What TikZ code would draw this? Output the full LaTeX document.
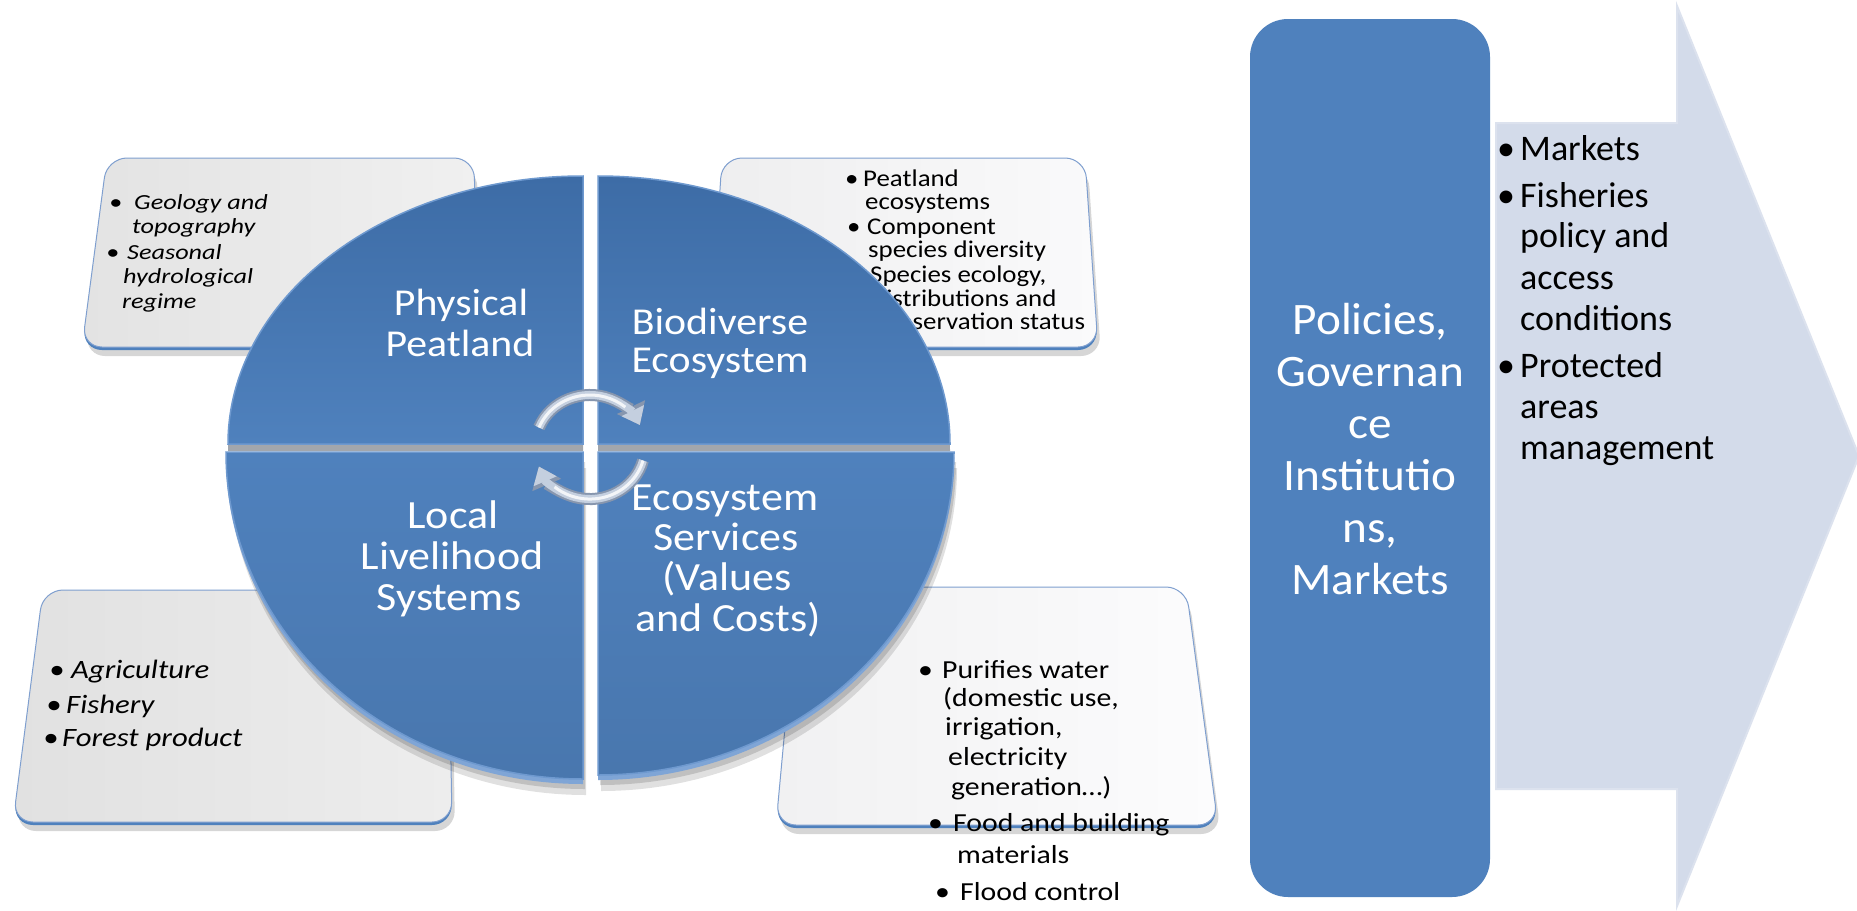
\documentclass[tikz,border=0pt]{standalone}
\usepackage{fontspec}
\setmainfont{Carlito}
\newfontfamily\fTL[FakeStretch=1.22]{Carlito}
\newfontfamily\fTR[FakeStretch=1.12]{Carlito}
\newfontfamily\fBL[FakeStretch=1.16]{Carlito}
\newfontfamily\fBR[FakeStretch=1.145]{Carlito}
\newfontfamily\fQ[FakeStretch=1.1]{Carlito}
\newfontfamily\fR[FakeStretch=1.05]{Carlito}
\usetikzlibrary{arrows.meta}
\definecolor{qblue}{HTML}{4F81BD}
\definecolor{qdark}{HTML}{3D6CA6}
\definecolor{qlight}{HTML}{6E99CF}
\definecolor{qrim}{HTML}{7FA5D6}
\definecolor{band}{HTML}{A2A6AC}
\definecolor{arrowfill}{HTML}{D3DBEA}
\definecolor{arrowedge}{HTML}{DCE2EE}
\definecolor{boxline}{HTML}{7F9FCF}
\definecolor{cyc}{HTML}{C4CFDF}
\definecolor{cycdark}{HTML}{8796AE}
\definecolor{tlL}{HTML}{E3E3E3}\definecolor{tlR}{HTML}{F0F0F0}
\definecolor{trL}{HTML}{EEEEEF}\definecolor{trR}{HTML}{FAFAFB}
\definecolor{blL}{HTML}{E1E1E1}\definecolor{blR}{HTML}{EDEDED}
\definecolor{brL}{HTML}{F1F1F2}\definecolor{brR}{HTML}{FCFCFD}
\begin{document}
\begin{tikzpicture}[x=1pt,y=-1pt,
  txt/.style={inner sep=0pt, anchor=base west, text=black},
  qlabT/.style={inner sep=0pt, anchor=base, text=white, font=\fQ\fontsize{38}{41}\selectfont},
  qlabB/.style={inner sep=0pt, anchor=base, text=white, font=\fQ\fontsize{40}{41}\selectfont},
  rlab/.style={inner sep=0pt, anchor=base, text=white, font=\fR\fontsize{45}{52}\selectfont},
  boxface/.style={draw=boxline, line width=1pt, rounded corners=20pt},
  boxrim/.style={fill=qblue, rounded corners=20pt},
  boxshadow/.style={fill=black, opacity=0.16, rounded corners=20pt},
  quad/.style={draw=qlight, line width=1.5pt},
  cycout/.style={line width=12pt, draw=cycdark, -{Triangle[length=20pt,width=30pt]}},
  cycarrow/.style={line width=8pt, draw=cyc, -{Triangle[length=16pt,width=24pt]}},
  cychigh/.style={line width=3pt, draw=white, opacity=0.8},
]
\useasboundingbox (0,0) rectangle (1857,910);
\fill[white] (0,0) rectangle (1857,910);

% ---------- text boxes ----------
% top-left
\begin{scope}[shift={(3,9)}]\fill[boxshadow] (107,158) -- (474,158) -- (478,347) -- (82,347) -- cycle;\end{scope}
\begin{scope}[shift={(0,3)}]\fill[boxrim] (107,158) -- (474,158) -- (478,347) -- (82,347) -- cycle;\end{scope}
\path[boxface, left color=tlL, right color=tlR] (107,158) -- (474,158) -- (478,347) -- (82,347) -- cycle;
% top-right
\begin{scope}[shift={(3,9)}]\fill[boxshadow] (722,158) -- (1085,158) -- (1098,347) -- (710,347) -- cycle;\end{scope}
\begin{scope}[shift={(0,3)}]\fill[boxrim] (722,158) -- (1085,158) -- (1098,347) -- (710,347) -- cycle;\end{scope}
\path[boxface, left color=trL, right color=trR] (722,158) -- (1085,158) -- (1098,347) -- (710,347) -- cycle;
% bottom-left
\begin{scope}[shift={(3,9)}]\fill[boxshadow] (43,590) -- (448,590) -- (452,822) -- (13,822) -- cycle;\end{scope}
\begin{scope}[shift={(0,3)}]\fill[boxrim] (43,590) -- (448,590) -- (452,822) -- (13,822) -- cycle;\end{scope}
\path[boxface, left color=blL, right color=blR] (43,590) -- (448,590) -- (452,822) -- (13,822) -- cycle;
% bottom-right
\begin{scope}[shift={(3,9)}]\fill[boxshadow] (798,587) -- (1186,587) -- (1218,825) -- (776,825) -- cycle;\end{scope}
\begin{scope}[shift={(0,3)}]\fill[boxrim] (798,587) -- (1186,587) -- (1218,825) -- (776,825) -- cycle;\end{scope}
\path[boxface, left color=brL, right color=brR] (798,587) -- (1186,587) -- (1218,825) -- (776,825) -- cycle;

% box texts
\begin{scope}[font=\fTL\itshape\fontsize{21.5}{24}\selectfont]
\node[txt] (tlb1) at (109,209) {•};
\node[txt] (tl1) at (134,209) {Geology and};
\node[txt] (tl2) at (132,233) {topography};
\node[txt] (tlb2) at (106,259) {•};
\node[txt] (tl3) at (127,259) {Seasonal};
\node[txt] (tl4) at (123,283) {hydrological};
\node[txt] (tl5) at (122,308) {regime};
\end{scope}
\begin{scope}[font=\fTR\fontsize{24}{24}\selectfont]
\node[txt] (trb1) at (845,186) {•};
\node[txt] (tr1) at (863,186) {Peatland};
\node[txt] (tr2) at (865,209) {ecosystems};
\node[txt] (trb2) at (847,234) {•};
\node[txt] (tr3) at (867,234) {Component};
\node[txt] (tr4) at (868,257) {species diversity};
\node[txt] (trb3) at (849,282) {•};
\node[txt] (tr5) at (870,282) {Species ecology,};
\node[txt] (tr6) at (872,306) {distributions and};
\node[txt] (tr7) at (873,329) {conservation status};
\end{scope}
\begin{scope}[font=\fBL\itshape\fontsize{26.5}{30}\selectfont]
\node[txt] (blb1) at (49,678) {•};
\node[txt] (bl1) at (71,678) {Agriculture};
\node[txt] (blb2) at (46,713) {•};
\node[txt] (bl2) at (66,713) {Fishery};
\node[txt] (blb3) at (43,746) {•};
\node[txt] (bl3) at (62,746) {Forest product};
\end{scope}
\begin{scope}[font=\fBR\fontsize{26}{30}\selectfont]
\node[txt] (brb1) at (918,678) {•};
\node[txt] (br1) at (942,678) {Purifies water};
\node[txt] (br2) at (943,706) {(domestic use,};
\node[txt] (br3) at (945,735) {irrigation,};
\node[txt] (br4) at (948,765) {electricity};
\node[txt] (br5) at (951,795) {generation…)};
\node[txt] (brb2) at (928,831) {•};
\node[txt] (br6) at (953,831) {Food and building};
\node[txt] (br7) at (957,863) {materials};
\node[txt] (brb3) at (935,900) {•};
\node[txt] (br8) at (960,900) {Flood control};
\end{scope}

% ---------- disk ----------
% drop shadow under the lower quadrants
\foreach \dx/\dy/\op in {3/16/0.12, 2/10/0.14}{
  \begin{scope}[shift={(\dx,\dy)}]
  \fill[black, opacity=\op] (583,452) -- (226,452) arc[start angle=180, end angle=270, x radius=357pt, y radius=327pt] -- cycle;
  \fill[black, opacity=\op] (598,452) -- (598,775) arc[start angle=270, end angle=360, x radius=356pt, y radius=323pt] -- cycle;
  \end{scope}
}
% thickness of the upper quadrants
\begin{scope}[shift={(0,7)}]
\fill[band] (583,444) -- (228,444) arc[start angle=180, end angle=90, x radius=355pt, y radius=268pt] -- cycle;
\fill[band] (598,444) -- (598,176) arc[start angle=90, end angle=0, x radius=352pt, y radius=268pt] -- cycle;
\end{scope}
% rim of the lower quadrants
\begin{scope}[shift={(0,5)}]
\fill[qrim] (583,452) -- (226,452) arc[start angle=180, end angle=270, x radius=357pt, y radius=327pt] -- cycle;
\fill[qrim] (598,452) -- (598,775) arc[start angle=270, end angle=360, x radius=356pt, y radius=323pt] -- cycle;
\end{scope}
% faces
\path[quad, top color=qdark, bottom color=qblue] (583,444) -- (228,444) arc[start angle=180, end angle=90, x radius=355pt, y radius=268pt] -- cycle;
\path[quad, top color=qdark, bottom color=qblue] (598,444) -- (598,176) arc[start angle=90, end angle=0, x radius=352pt, y radius=268pt] -- cycle;
\path[quad, top color=qblue, bottom color=qblue!92!black] (583,452) -- (226,452) arc[start angle=180, end angle=270, x radius=357pt, y radius=327pt] -- cycle;
\path[quad, top color=qblue, bottom color=qblue!92!black] (598,452) -- (598,775) arc[start angle=270, end angle=360, x radius=356pt, y radius=323pt] -- cycle;

% quadrant labels
\node[qlabT] (q1a) at (461,315) {Physical};
\node[qlabT] (q1b) at (460,356) {Peatland};
\node[qlabT] (q2a) at (720,334) {Biodiverse};
\node[qlabT] (q2b) at (720,372) {Ecosystem};
\node[qlabB] (q3a) at (453,528) {Local};
\node[qlabB] (q3b) at (452,569) {Livelihood};
\node[qlabB] (q3c) at (449,610) {Systems};
\node[qlabB] (q4a) at (725,510) {Ecosystem};
\node[qlabB] (q4b) at (726,550) {Services};
\node[qlabB] (q4c) at (727,590) {(Values};
\node[qlabB] (q4d) at (728,631) {and Costs)};

% cycle arrows
\draw[cycout] (539,427.5) arc[start angle=158, end angle=25, x radius=55pt, y radius=52pt];
\draw[cycarrow] (539,427.5) arc[start angle=158, end angle=25, x radius=55pt, y radius=52pt];
\draw[cychigh] (539,427.5) arc[start angle=158, end angle=50, x radius=55pt, y radius=52pt];
\draw[cycout] (643,460.5) arc[start angle=-15, end angle=-158, x radius=55pt, y radius=52pt];
\draw[cycarrow] (643,460.5) arc[start angle=-15, end angle=-158, x radius=55pt, y radius=52pt];
\draw[cychigh] (643,460.5) arc[start angle=-15, end angle=-130, x radius=55pt, y radius=52pt];

% ---------- right side ----------
\path[draw=arrowedge, line width=2pt, fill=arrowfill] (1496,123) -- (1677,123) -- (1677,6) -- (1859,456) -- (1677,906) -- (1677,789) -- (1496,789) -- cycle;
\path[fill=qblue, rounded corners=38pt] (1250,19) rectangle (1490,897);

\node[rlab] (p1) at (1370,334) {Policies,};
\node[rlab] (p2) at (1370,386) {Governan};
\node[rlab] (p3) at (1370,438) {ce};
\node[rlab] (p4) at (1370,490) {Institutio};
\node[rlab] (p5) at (1370,542) {ns,};
\node[rlab] (p6) at (1370,594) {Markets};

\begin{scope}[font=\fontsize{36}{41}\selectfont]
\node[txt] (mb1) at (1497,160) {•};
\node[txt] (m1) at (1520,160) {Markets};
\node[txt] (mb2) at (1497,207) {•};
\node[txt] (m2) at (1520,207) {Fisheries};
\node[txt] (m3) at (1520,247) {policy and};
\node[txt] (m4) at (1520,289) {access};
\node[txt] (m5) at (1520,330) {conditions};
\node[txt] (mb3) at (1497,377) {•};
\node[txt] (m6) at (1520,377) {Protected};
\node[txt] (m7) at (1520,418) {areas};
\node[txt] (m8) at (1520,459) {management};
\end{scope}
\end{tikzpicture}
\end{document}
